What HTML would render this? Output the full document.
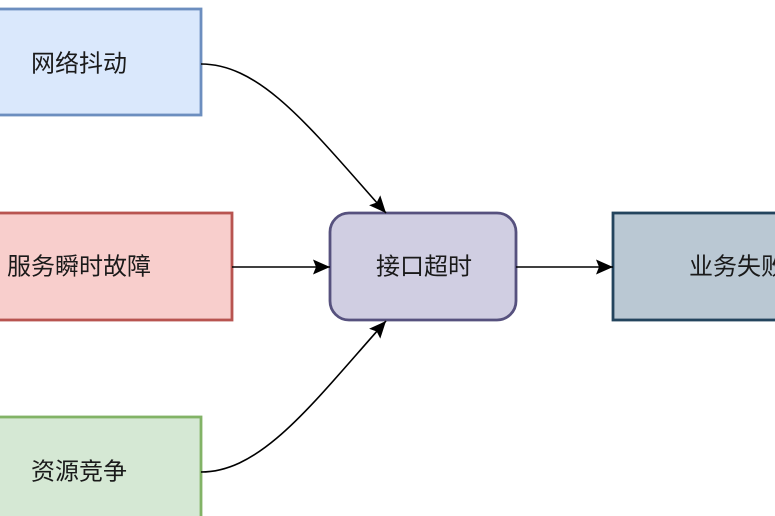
<!DOCTYPE html>
<html>
<head>
<meta charset="utf-8">
<style>
  html, body { margin:0; padding:0; background:#ffffff; }
  body { width:775px; height:516px; overflow:hidden; }
  svg { display:block; overflow:hidden; }
  text { font-family: "Liberation Sans", "Noto Sans CJK SC", sans-serif; font-size:24px; fill:#1a1a1a; }
</style>
</head>
<body>
<svg width="775" height="516" viewBox="0 0 775 516" xmlns="http://www.w3.org/2000/svg">
  <defs>
    <marker id="arr" markerUnits="userSpaceOnUse" markerWidth="20" markerHeight="18" refX="17" refY="7.5" orient="auto">
      <path d="M0,0 L17,7.5 L0,15 L3,7.5 z" fill="#000"/>
    </marker>
  </defs>

  <!-- boxes -->
  <rect x="-50" y="9" width="251" height="106" fill="#dae8fc" stroke="#6c8ebf" stroke-width="2.8"/>
  <rect x="-80" y="213" width="312" height="107" fill="#f8cecc" stroke="#b85450" stroke-width="2.8"/>
  <rect x="330" y="213" width="186" height="107" rx="19" ry="19" fill="#d0cee2" stroke="#56517e" stroke-width="2.8"/>
  <rect x="613" y="213" width="250" height="107" fill="#bac8d3" stroke="#23445d" stroke-width="2.8"/>
  <rect x="-50" y="417" width="251" height="101" fill="#d5e8d4" stroke="#82b366" stroke-width="2.8"/>

  <!-- connectors -->
  <path d="M201,64 C262,64 312,130 386,213" fill="none" stroke="#000" stroke-width="1.6" marker-end="url(#arr)"/>
  <path d="M232,267 L330,267" fill="none" stroke="#000" stroke-width="1.6" marker-end="url(#arr)"/>
  <path d="M201,472 C262,472 312,404 386,321" fill="none" stroke="#000" stroke-width="1.6" marker-end="url(#arr)"/>
  <path d="M516,267 L613,267" fill="none" stroke="#000" stroke-width="1.6" marker-end="url(#arr)"/>

  <!-- labels -->
  <text x="31" y="64" dominant-baseline="central">网络抖动</text>
  <text x="7" y="267" dominant-baseline="central">服务瞬时故障</text>
  <text x="376" y="267" dominant-baseline="central">接口超时</text>
  <text x="689" y="267" dominant-baseline="central">业务失败</text>
  <text x="31" y="472" dominant-baseline="central">资源竞争</text>
</svg>
</body>
</html>
